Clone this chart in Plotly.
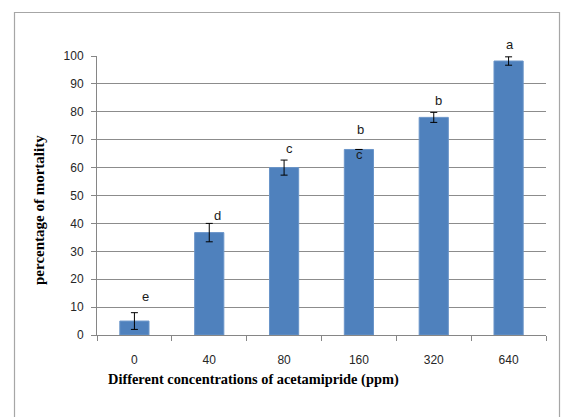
import plotly.graph_objects as go

concentrations = ["0", "40", "80", "160", "320", "640"]
mortality = [5.0, 36.7, 60.0, 66.5, 78.0, 98.2]
errors = [3.0, 3.3, 2.7, 0.0, 1.8, 1.5]

letter_index = [0, 1, 2, 3, 3, 4, 5]
letter_texts = ["e", "d", "c", "b", "c", "b", "a"]
letter_y = [13.8, 42.8, 67.0, 73.5, 64.8, 84.0, 104.0]
letter_shift = [11, 8, 5, 2, 1, 5, 1]

W, H = 561, 417
L, R, T, B = 97, 15, 56, 82
pw, ph = W - L - R, H - T - B
YMAX = 100

def px(x):
    return (x - L) / pw

def py(y):
    return (H - B - y) / ph

fig = go.Figure()
fig.add_trace(go.Bar(
    x=concentrations, y=mortality,
    marker=dict(color="#4F81BD", line=dict(color="#6A95C9", width=1)),
    error_y=dict(type="data", array=errors, visible=True, color="#000000",
                 thickness=1, width=3.5),
    width=0.39,
))

annotations = []
for i, t, y, s in zip(letter_index, letter_texts, letter_y, letter_shift):
    annotations.append(dict(x=i, y=y / YMAX, xref="x", yref="paper", text=t, showarrow=False,
                            xshift=s, yanchor="middle",
                            font=dict(family="Liberation Sans", size=13, color="#1a1a1a")))

annotations.append(dict(x=px(253), y=py(379), xref="paper", yref="paper",
                        text="<b>Different concentrations of acetamipride (ppm)</b>",
                        showarrow=False, xanchor="center", yanchor="middle",
                        font=dict(family="Liberation Serif", size=14.4, color="#000000")))
annotations.append(dict(x=px(39), y=py(210), xref="paper", yref="paper",
                        text="<b>percentage of mortality</b>", textangle=-90,
                        showarrow=False, xanchor="center", yanchor="middle",
                        font=dict(family="Liberation Serif", size=15, color="#000000")))

fig.update_layout(
    width=W, height=H,
    margin=dict(l=L, r=R, t=T, b=B, autoexpand=False),
    paper_bgcolor="white", plot_bgcolor="white",
    showlegend=False,
    annotations=annotations,
    shapes=[dict(type="path", xref="paper", yref="paper",
                 path=f"M {px(14.5)},-0.4 L {px(14.5)},{py(12.5)} L {px(559.5)},{py(12.5)} L {px(559.5)},-0.4",
                 line=dict(color="#A6A6A6", width=1.2))],
    xaxis=dict(type="category", range=[-0.5, 5.5], showline=True, linecolor="#868686",
               linewidth=1, ticks="outside", ticklen=5, tickcolor="#868686",
               tickson="boundaries", showgrid=False, ticklabelstandoff=14,
               tickfont=dict(family="Liberation Sans", size=12, color="#262626")),
    yaxis=dict(range=[0, YMAX], dtick=10, showline=True, linecolor="#868686", linewidth=1,
               ticks="outside", ticklen=5, tickcolor="#868686", ticklabelstandoff=5,
               showgrid=True, gridcolor="#8C8C8C", gridwidth=1, zeroline=False,
               tickfont=dict(family="Liberation Sans", size=12, color="#262626")),
)

fig.write_html("out.html", config={"displayModeBar": False},
               post_script="document.body.style.margin='0';")
